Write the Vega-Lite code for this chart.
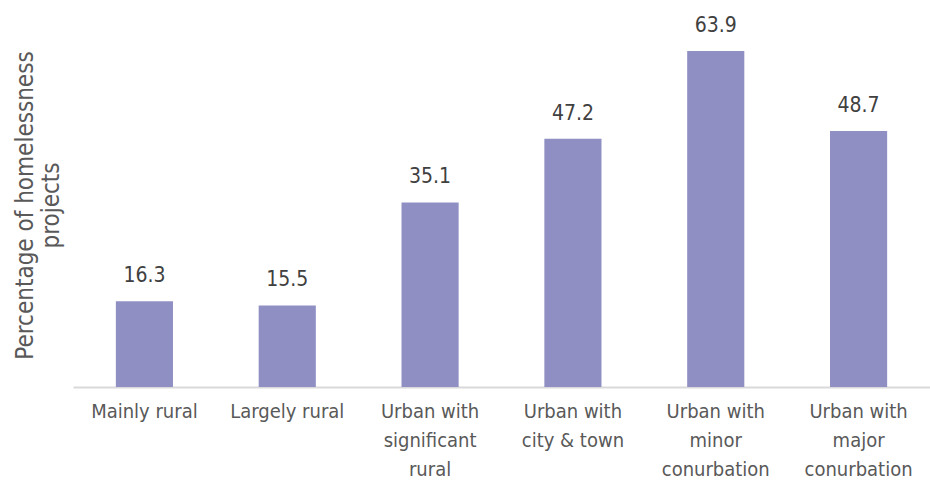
{
  "$schema": "https://vega.github.io/schema/vega-lite/v6.json",
  "autosize": "none",
  "width": 857,
  "height": 387,
  "padding": {"left": 73, "top": 0, "right": 0, "bottom": 100},
  "background": "white",
  "config": {"view": {"stroke": null}, "font": "DejaVu Sans Condensed, Roboto, sans-serif"},
  "data": {"values": [
    {"category": "Mainly rural", "value": 16.3},
    {"category": "Largely rural", "value": 15.5},
    {"category": "Urban with|significant|rural", "value": 35.1},
    {"category": "Urban with|city & town", "value": 47.2},
    {"category": "Urban with|minor|conurbation", "value": 63.9},
    {"category": "Urban with|major|conurbation", "value": 48.7}
  ]},
  "encoding": {
    "x": {"field": "category", "type": "nominal", "sort": null,
      "scale": {"paddingInner": 0.6, "paddingOuter": 0.3},
      "axis": {"title": null, "labelAngle": 0, "ticks": false, "domainColor": "#d9d9d9", "domainWidth": 2,
        "labelExpr": "split(datum.label, '|')", "labelFontSize": 20, "labelColor": "#595959",
        "labelPadding": 14, "labelLineHeight": 29, "labelBaseline": "top"}},
    "y": {"field": "value", "type": "quantitative",
      "scale": {"domain": [0, 73.6], "nice": false},
      "axis": {"title": ["Percentage of homelessness", "projects"], "domain": false, "ticks": false, "labels": false, "grid": false,
        "titleFontSize": 24, "titleFontWeight": "normal", "titleColor": "#595959", "titlePadding": 10, "titleLineHeight": 26, "titleY": 205}}
  },
  "layer": [
    {"mark": {"type": "bar", "color": "#8f8fc4"}},
    {"mark": {"type": "text", "dy": -25, "fontSize": 21, "color": "#404040"},
     "encoding": {"text": {"field": "value", "type": "quantitative", "format": ".1f"}}}
  ]
}
